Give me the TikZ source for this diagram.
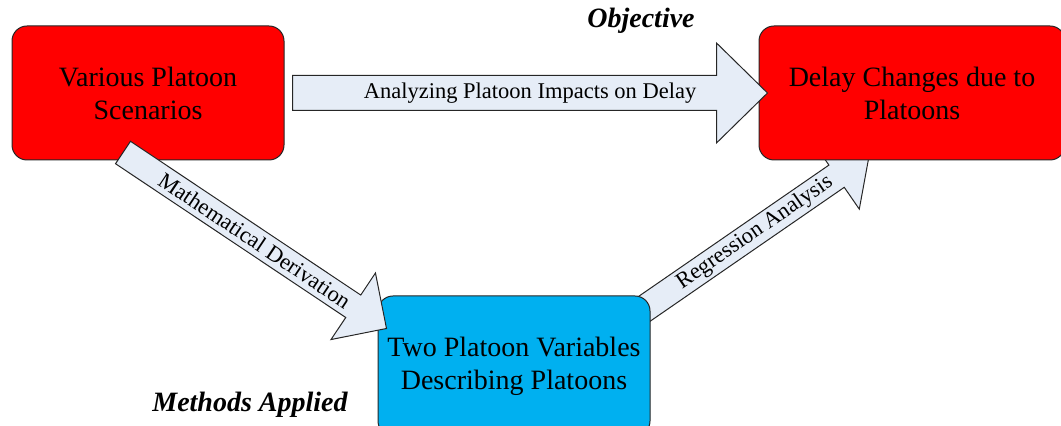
\documentclass[tikz,border=0pt]{standalone}
\usepackage{fontspec}
\setmainfont{Liberation Serif}
\usepackage{tikz}
\usetikzlibrary{calc, positioning, backgrounds}
\usepackage{xcolor}

\definecolor{boxred}{RGB}{255,0,0}
\definecolor{boxblue}{RGB}{0,176,240}
\definecolor{arrowfill}{RGB}{230,237,247}

% block arrow: tail, tip, shaft half width, head half width, head length, label
\newcommand{\blockarrow}[6]{%
  \coordinate (neck) at ($(#2)!#5!(#1)$);
  \draw[barrow] ($(#1)!#3!90:(#2)$) -- ($(neck)!#3!90:(#2)$) -- ($(neck)!#4!90:(#2)$)
    -- (#2) -- ($(neck)!#4!-90:(#2)$) -- ($(neck)!#3!-90:(#2)$) -- ($(#1)!#3!-90:(#2)$) -- cycle;
  \path (#1) -- (#2) node[midway, sloped, arrowlabel] {#6};
}

\begin{document}
\begin{tikzpicture}[
    x=0.5pt, y=-0.5pt,
    box/.style={rectangle, draw=black!85, line width=0.5pt, rounded corners=7.5pt, minimum width=136pt, minimum height=67pt, align=center, inner sep=0pt, font=\fontsize{14}{16.5}\selectfont},
    barrow/.style={draw=black!85, line width=0.5pt, fill=arrowfill, line join=miter},
    arrowlabel/.style={inner sep=0pt, font=\fontsize{11.25}{13}\selectfont},
    heading/.style={anchor=base, inner sep=0pt, font=\fontsize{14}{16}\selectfont\bfseries\itshape}
]
\clip (0,0) rectangle (1061,426);

\node[box, fill=boxred] (scen) at (148,93) {Various Platoon\\Scenarios};
\node[box, fill=boxred, minimum width=153pt] (delay) at (912,93) {Delay Changes due to\\Platoons};
\node[box, fill=boxblue, minimum height=70pt] (twovar) at (514,366) {Two Platoon Variables\\Describing Platoons};

\node[heading] (obj) at (641,28) {Objective};
\node[heading] (meth) at (250,412) {Methods Applied};

\coordinate (t1) at ($(scen.east)+(8,0)$);
\coordinate (h1) at ($(delay.west)+(9,0)$);
\coordinate (t2) at ($(scen.south)+(-25,-8)$);
\coordinate (h2) at ($(twovar.north west)+(9,33)$);
\coordinate (t3) at ($(twovar.north east)+(-10,16)$);
\coordinate (h3) at ($(delay.south west)+(111,-7)$);

\blockarrow{t1}{h1}{8.75pt}{25pt}{25.5pt}{Analyzing Platoon Impacts on Delay}
\blockarrow{t2}{h2}{6.75pt}{20pt}{20pt}{Mathematical Derivation}
\begin{pgfonlayer}{background}
\blockarrow{t3}{h3}{6.75pt}{20pt}{20pt}{Regression Analysis}
\end{pgfonlayer}
\end{tikzpicture}
\end{document}
